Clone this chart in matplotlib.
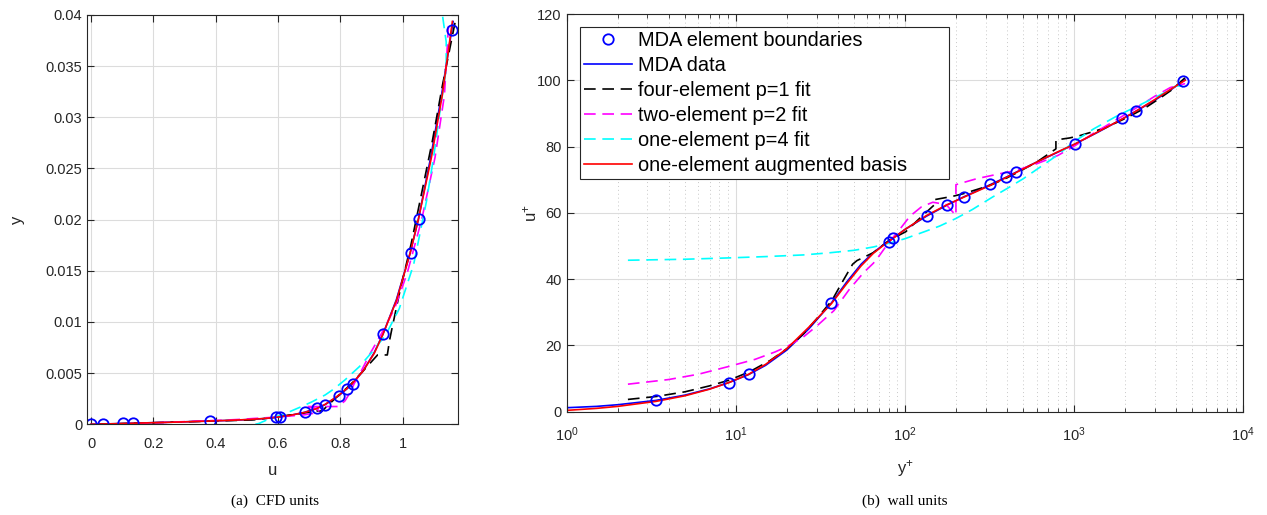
import numpy as np
import matplotlib.pyplot as plt
from matplotlib.ticker import LogLocator, NullLocator, FixedLocator

plt.rcParams['font.family'] = ['Liberation Sans', 'DejaVu Sans']
plt.rcParams['mathtext.default'] = 'regular'

# friction velocity and viscosity used to go from wall units back to CFD units
u_tau = 0.0116
nu = 1.008e-7

# element boundaries (wall units)
mk_yp = [0, 3.36, 9.1, 11.9, 36.7, 80, 85, 134, 178, 222, 319, 398, 455, 1014, 1923, 2306, 4430]
mk_up = [0, 3.4, 8.8, 11.5, 32.8, 51.3, 52.3, 59.1, 62.5, 64.8, 68.6, 70.9, 72.4, 80.9, 88.5, 90.7, 99.9]

# MDA data
mda_yp = [0, 1, 1.5, 2, 3.36, 5, 7, 9.1, 11.9, 15, 20, 27, 36.7, 45, 55, 65, 75, 82, 100, 134,
          178, 222, 319, 398, 455, 600, 800, 1014, 1400, 1923, 2306, 3000, 3700, 4530]
mda_up = [0, 1.2, 1.6, 2.1, 3.4, 5.0, 6.9, 8.8, 11.2, 14.0, 18.6, 25.0, 32.8, 39, 44.5, 48, 50.5, 51.8, 55, 59,
          62.4, 64.8, 68.5, 70.8, 72.3, 75.3, 78.3, 80.8, 84.5, 88.3, 90.6, 94, 97, 100.2]

# four-element p=1 fit
p1_yp = [0, 2.3, 3.4, 5, 7, 9.1, 12, 16, 20, 25, 30, 37, 43, 49, 52, 56, 65, 81, 101, 120, 146, 150,
         150, 192, 222, 319, 398, 455, 600, 780, 780, 940, 1080, 1500, 2030, 2600, 3194, 3800, 4530]
p1_up = [1.7, 3.7, 4.6, 6.0, 7.8, 9.5, 12.0, 15.5, 19.0, 23.4, 28.0, 33.6, 39.5, 44.5, 45.6, 46.4, 48.0, 51.8,
         54.3, 58.0, 62.0, 62.5, 64.0, 65.0, 65.8, 68.3, 70.5, 72.0, 75.3, 79.3, 82.0, 82.6, 83.3, 85.5, 88.6,
         91.5, 94.5, 97.2, 100.8]

# two-element p=2 fit
p2_yp = [0, 2.3, 4, 6, 9, 13, 17, 20, 25, 30, 38, 47, 57, 65, 71, 80, 93, 107, 125, 146, 175, 200,
         200, 265, 363, 455, 600, 800, 1014, 1300, 1700, 2300, 3000, 3700, 4530]
p2_up = [7.6, 8.3, 9.7, 11.3, 13.6, 15.8, 18.0, 19.6, 22.5, 25.8, 30.5, 37.0, 42.0, 44.8, 47.3, 51.0, 55.0,
         59.0, 61.8, 63.2, 62.5, 59.2, 68.5, 70.3, 71.8, 72.8, 74.8, 77.3, 80.3, 84.0, 87.5, 91.5, 95.2,
         97.8, 99.0]

# one-element p=4 fit
p4_yp = [0, 2.3, 5, 9, 15, 25, 35, 50, 65, 80, 100, 130, 160, 200, 250, 330, 400, 500, 650, 800,
         1000, 1300, 1800, 2500, 3000, 3500, 4000, 4300, 4590]
p4_up = [45.5, 45.7, 46.0, 46.4, 46.8, 47.3, 47.9, 48.7, 49.7, 50.8, 52.2, 54.3, 56.0, 58.3, 61.0, 64.8,
         67.3, 70.3, 74.3, 77.5, 81.5, 85.3, 89.3, 92.8, 94.8, 96.5, 98.3, 98.3, 97.3]

# one-element augmented basis
aug_yp = [0, 1, 1.5, 2, 3.36, 5, 7, 9.1, 11.9, 15, 20, 27, 36.7, 45, 55, 65, 75, 82, 100, 134,
          178, 222, 319, 398, 455, 600, 800, 1014, 1400, 1923, 2306, 3000, 3700, 4530]
aug_up = [0, 0.4, 1.0, 1.6, 3.1, 4.8, 6.8, 8.8, 11.3, 14.3, 19.0, 25.5, 32.6, 38.5, 44, 47.8, 50.3, 51.7, 55,
          59.2, 62.5, 64.7, 68.3, 70.7, 72.2, 75.3, 78.4, 80.8, 84.6, 88.3, 90.6, 94.2, 97.2, 100.0]

series = [
    (mda_yp, mda_up, dict(color='#0000ff', ls='-', label='MDA data')),
    (p1_yp, p1_up, dict(color='#000000', ls=(0, (7, 4)), label='four-element p=1 fit')),
    (p2_yp, p2_up, dict(color='#ff00ff', ls=(0, (7, 4)), label='two-element p=2 fit')),
    (p4_yp, p4_up, dict(color='#00ffff', ls=(0, (7, 4)), label='one-element p=4 fit')),
    (aug_yp, aug_up, dict(color='#ff0000', ls='-', label='one-element augmented basis')),
]

fig = plt.figure(figsize=(12.67, 5.15), dpi=100)
axl = fig.add_axes([0.0689, 0.1761, 0.2928, 0.7948])
axr = fig.add_axes([0.4473, 0.2006, 0.5340, 0.7722])

dark = '0.15'
grid_c = '#dcdcdc'

# (a) CFD units
for yp, up, st in series:
    yp = np.array(yp)
    up = np.array(up)
    axl.plot(up * u_tau, yp * nu / u_tau, lw=1.2, **st)
mk_yp_a = np.array(mk_yp)
mk_up_a = np.array(mk_up)
axl.plot(mk_up_a * u_tau, mk_yp_a * nu / u_tau, 'o', color='#0000ff', mfc='none', ms=7.5, mew=1.3)
axl.set_xlim(-0.012, 1.179)
axl.set_ylim(0, 0.04)
axl.xaxis.set_major_locator(FixedLocator([0, 0.2, 0.4, 0.6, 0.8, 1.0]))
axl.set_xticklabels(['0', '0.2', '0.4', '0.6', '0.8', '1'])
yt = [0, 0.005, 0.01, 0.015, 0.02, 0.025, 0.03, 0.035, 0.04]
axl.yaxis.set_major_locator(FixedLocator(yt))
axl.set_yticklabels(['0', '0.005', '0.01', '0.015', '0.02', '0.025', '0.03', '0.035', '0.04'])
axl.set_xlabel('u', fontsize=12, color=dark)
axl.set_ylabel('y', fontsize=12, color=dark)
axl.xaxis.set_label_coords(0.5, -0.095)
axl.yaxis.set_label_coords(-0.168, 0.5)
axl.grid(True, color=grid_c, lw=0.8)

# (b) wall units
lines = []
for yp, up, st in series:
    yp = np.array(yp)
    up = np.array(up)
    keep = yp > 0
    ln, = axr.plot(yp[keep], up[keep], lw=1.2, **st)
    lines.append(ln)
keep = mk_yp_a > 0
mk, = axr.plot(mk_yp_a[keep], mk_up_a[keep], 'o', color='#0000ff', mfc='none', ms=7.5, mew=1.3,
               label='MDA element boundaries')
axr.set_xscale('log')
axr.set_xlim(1, 1e4)
axr.set_ylim(0, 120)
axr.xaxis.set_major_locator(LogLocator(base=10, numticks=10))
axr.xaxis.set_minor_locator(LogLocator(base=10, subs=np.arange(2, 10), numticks=10))
axr.yaxis.set_major_locator(FixedLocator([0, 20, 40, 60, 80, 100, 120]))
axr.yaxis.set_minor_locator(NullLocator())
axr.set_xlabel('y$^{+}$', fontsize=12, color=dark)
axr.set_ylabel('u$^{+}$', fontsize=12, color=dark)
axr.xaxis.set_label_coords(0.5, -0.116)
axr.yaxis.set_label_coords(-0.041, 0.5)
axr.grid(True, which='major', color=grid_c, lw=0.8)
axr.grid(True, which='minor', axis='x', color='#c8c8c8', lw=0.7, ls=(0, (1, 3)))

leg = axr.legend([mk] + lines, [mk.get_label()] + [l.get_label() for l in lines],
                 loc='upper left', bbox_to_anchor=(0.0197, 0.5, 0.5454, 0.468), mode='expand',
                 borderaxespad=0, fontsize=14.4, handlelength=2.4, handletextpad=0.3,
                 labelspacing=0.3, borderpad=0.2, fancybox=False, framealpha=1, edgecolor=dark)
leg.get_frame().set_linewidth(0.8)

for ax in (axl, axr):
    ax.set_axisbelow(True)
    for s in ax.spines.values():
        s.set_color(dark)
        s.set_linewidth(0.8)
    ax.tick_params(which='both', direction='in', top=True, right=True, colors=dark,
                   labelsize=10.5, labelcolor=dark)
    ax.tick_params(which='major', length=5)
    ax.tick_params(which='minor', length=3)
axl.tick_params(axis='x', pad=9)
axr.tick_params(axis='x', which='both', pad=10)

fig.text(275 / 1267, 14 / 515, '(a)  CFD units', ha='center', va='center',
         fontsize=11, family=['Liberation Serif', 'DejaVu Serif'])
fig.text(905 / 1267, 14 / 515, '(b)  wall units', ha='center', va='center',
         fontsize=11, family=['Liberation Serif', 'DejaVu Serif'])

fig.savefig('out.png', dpi=100)
